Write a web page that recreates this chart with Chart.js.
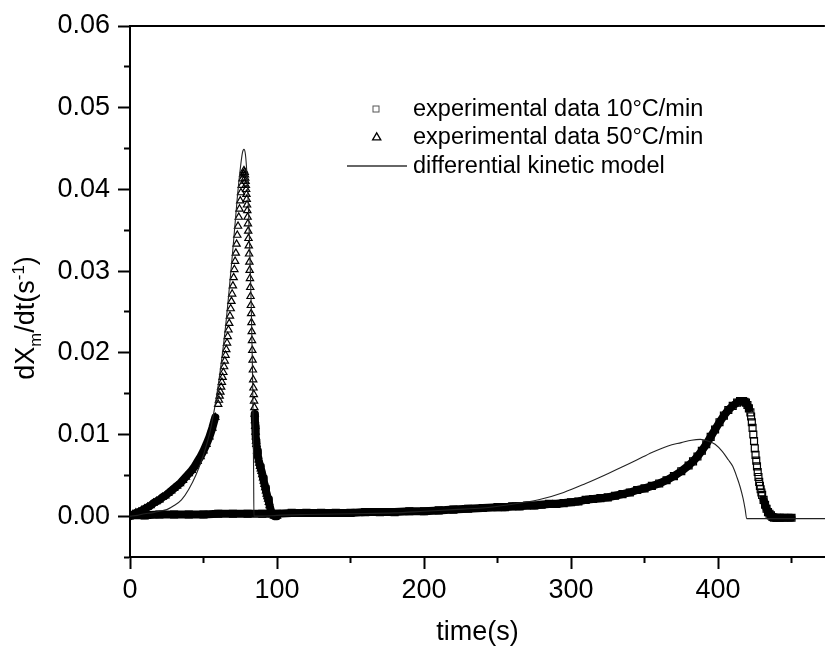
<!DOCTYPE html>
<html><head><meta charset="utf-8">
<script src="https://cdn.jsdelivr.net/npm/chart.js@4/dist/chart.umd.min.js"></script>
<style>
html,body{margin:0;padding:0;background:#fff;}
#wrap{position:relative;width:831px;height:653px;overflow:hidden;font-family:"Liberation Sans",Arial,sans-serif;color:#000;}
canvas{position:absolute;left:0;top:0;}
.lg{position:absolute;left:413px;font-size:23.5px;line-height:1;white-space:nowrap;transform:translateY(-50%);}
#ytitle{position:absolute;left:28px;top:318px;transform:translate(-50%,-50%) rotate(-90deg);font-size:27px;white-space:nowrap;line-height:1;}
#ytitle sub,#ytitle sup{font-size:62%;}
#lgsvg{position:absolute;left:0;top:0;pointer-events:none;}
</style></head>
<body><div id="wrap">
<canvas id="c" width="831" height="653"></canvas>
<svg id="lgsvg" width="831" height="653">
  <rect x="373" y="106" width="6" height="6" fill="none" stroke="#555" stroke-width="1"/>
  <polygon points="376.7,132.8 380.8,139.8 372.6,139.8" fill="none" stroke="#000" stroke-width="1.3"/>
  <line x1="347" y1="166" x2="407" y2="166" stroke="#333" stroke-width="1.3"/>
</svg>
<div class="lg" style="top:109px">experimental data 10°C/min</div>
<div class="lg" style="top:137px">experimental data 50°C/min</div>
<div class="lg" style="top:166px">differential kinetic model</div>
<div id="ytitle">dX<sub>m</sub>/dt(s<sup>-1</sup>)</div>
</div>
<script>
// experimental data 50°C/min (triangles)
const t50 = [0,2,4,6,8,10,12,14,16,18,20,22,24,26,28,30,32,34,36,38,40,42,44,46,48,50,52,54,56,58,60,
  60.5,61,61.5,62,62.5,63,63.5,64,64.5,65,65.5,66,66.5,67,67.5,68,68.5,69,69.5,70,
  70.5,71,71.5,72,72.5,73,73.5,74,74.5,75,75.5,76,76.5,77,77.5,
  78.0,78.2,78.4,78.6,78.8,79.0,79.2,79.4,79.6,79.8,80.0,80.2,80.4,80.6,80.8,81.0,81.2,81.4,81.6,81.8,
  82.0,82.2,82.4,82.6,82.8,83.0,83.2,83.4,83.6,83.8,84.0,84.2,84.4,84.6,84.8,85.0,85.2,85.4,85.6,85.8,86.0,
  86.5,87,87.5,88,88.5,89,89.5,90,90.5,91,91.5,92,92.5,93,93.5,94,94.5,95,95.5,96,97,98,100];
const v50 = [0.0000,0.0002,0.0004,0.0005,0.0007,0.0009,0.0011,0.0013,0.0016,0.0018,0.0020,0.0023,0.0025,0.0028,0.0031,0.0034,0.0037,0.0040,0.0044,0.0048,0.0052,0.0056,0.0061,0.0067,0.0073,0.0080,0.0088,0.0097,0.0108,0.0121,0.0137,
  0.0142,0.0147,0.0152,0.0158,0.0164,0.0170,0.0176,0.0183,0.0190,0.0197,0.0204,0.0212,0.0220,0.0228,0.0236,0.0245,0.0254,0.0263,0.0272,0.0282,
  0.0292,0.0302,0.0312,0.0322,0.0333,0.0344,0.0355,0.0366,0.0376,0.0386,0.0396,0.0405,0.0413,0.0419,0.0423,
  0.0421,0.0418,0.0414,0.0410,0.0405,0.0400,0.0394,0.0388,0.0381,0.0374,0.0366,0.0358,0.0349,0.0340,0.0331,0.0321,0.0311,0.0301,0.0291,0.0280,
  0.0269,0.0258,0.0248,0.0237,0.0226,0.0215,0.0203,0.0191,0.0179,0.0167,0.0157,0.0149,0.0141,0.0133,0.0125,0.0117,0.0110,0.0103,0.0097,0.0092,0.0088,
  0.0080,0.0074,0.0069,0.0065,0.0061,0.0058,0.0055,0.0051,0.0047,0.0043,0.0039,0.0035,0.0031,0.0027,0.0024,0.0021,0.0017,0.0013,0.0009,0.0006,0.0002,0.0000,0.0000];

// experimental data 10°C/min (squares)
const t10 = [0,10,20,30,40,50,60,70,80,90,100,110,120,130,140,150,160,170,180,190,200,210,220,230,240,250,
  255,260,265,270,275,280,285,290,295,300,305,310,315,320,325,330,335,340,345,350,355,360,365,370,375,380,
  383,386,389,392,395,398,401,404,407,410,413,415,417,418,419,420,421,422,
  422.5,423,423.5,424,424.5,425,425.5,426,426.5,427,427.5,428,428.5,429,429.5,430,
  431,432,433,434,435,436,437,438,440,442,445,450];
const v10 = [0.0001,0.0001,0.0002,0.0002,0.0002,0.0002,0.0003,0.0003,0.0003,0.0003,0.0003,0.0004,0.0004,0.0004,0.0004,0.0004,0.0005,0.0005,0.0005,0.0006,0.0006,0.0007,0.0008,0.0009,0.0010,0.0011,
  0.0011,0.0012,0.0012,0.0013,0.0013,0.0014,0.0015,0.0015,0.0016,0.0017,0.0018,0.0020,0.0021,0.0022,0.0023,0.0025,0.0027,0.0029,0.0032,0.0034,0.0037,0.0040,0.0044,0.0049,0.0055,0.0062,
  0.0067,0.0073,0.0080,0.0088,0.0097,0.0106,0.0115,0.0123,0.0130,0.0135,0.0139,0.0141,0.0141,0.0140,0.0139,0.0136,0.0132,0.0127,
  0.0122,0.0115,0.0108,0.0100,0.0092,0.0083,0.0075,0.0068,0.0061,0.0054,0.0048,0.0042,0.0037,0.0033,0.0029,0.0026,
  0.0020,0.0014,0.0009,0.0005,0.0003,0.0001,-0.0001,-0.0002,-0.0002,-0.0002,-0.0002,-0.0002];

// differential kinetic model (line)
const tModel = [0,5,10,15,20,25,30,35,40,45,50,55,60,65,70,73,75,76.5,77.5,78.5,79.5,80.5,81.5,82.5,83.3,83.8,84.1,84.3,
  90,100,120,150,180,200,220,240,258,278,295,310,325,344,355,366,375,382,388,393,398,403,407,410,413,415,417,418.5,419.5,440,473];
const vModel = [0,0.0001,0.0003,0.0004,0.0006,0.0008,0.0013,0.0020,0.0033,0.0051,0.0075,0.0108,0.0160,0.0232,0.0327,0.0390,0.0425,0.0445,0.0449,0.0443,0.0420,0.0380,0.0325,0.0255,0.0180,0.0110,0.0050,0.0000,
  0.0000,0.0001,0.0002,0.0003,0.0004,0.0006,0.0008,0.0010,0.0014,0.0020,0.0029,0.0040,0.0052,0.0068,0.0078,0.0086,0.0090,0.0093,0.0094,0.0092,0.0088,0.0079,0.0069,0.0061,0.0047,0.0036,0.0022,0.0008,-0.0003,-0.0003,-0.0003];

const FONT = "'Liberation Sans', Arial, sans-serif";
const pts = (xs, ys) => xs.map((x, i) => ({x: x, y: ys[i]}));
const CLEAR = 'rgba(0,0,0,0)';
// dense band underlay: same points, broken where the markers stand apart (steep parts)
const band50 = pts(t50, v50).map(p => (p.y > 0.013 ? {x: p.x, y: null} : p));
const band10 = pts(t10, v10).map(p => (p.x > 421.5 && p.x < 430.5 ? {x: p.x, y: null} : p));

const topLine = {
  id: 'topLine',
  afterDraw(chart) {
    const {ctx, chartArea: a} = chart;
    ctx.save();
    ctx.strokeStyle = '#000'; ctx.lineWidth = 2;
    ctx.beginPath(); ctx.moveTo(a.left - 1, a.top); ctx.lineTo(a.right, a.top); ctx.stroke();
    ctx.restore();
  }
};

const markerDs = (label, data, style, r, order) => ({
  label: label, data: data, showLine: false, fill: false,
  pointStyle: style, pointRadius: r, pointBorderWidth: 1.2,
  pointBorderColor: '#000', pointBackgroundColor: CLEAR, order: order
});
const bandDs = (data, order) => ({
  label: '', data: data, showLine: true, spanGaps: false, fill: false,
  borderColor: '#000', borderWidth: 8, tension: 0, pointRadius: 0,
  borderCapStyle: 'round', borderJoinStyle: 'round', order: order
});

new Chart(document.getElementById('c'), {
  type: 'line',
  data: {
    datasets: [
      {
        label: 'differential kinetic model',
        data: pts(tModel, vModel),
        borderColor: '#222', borderWidth: 1.1, pointRadius: 0, fill: false,
        cubicInterpolationMode: 'monotone', order: 0
      },
      markerDs('experimental data 50°C/min', pts(t50, v50), 'triangle', 4.2, 1),
      bandDs(band50, 2),
      markerDs('experimental data 10°C/min', pts(t10, v10), 'rect', 4.9, 3),
      bandDs(band10, 4)
    ]
  },
  options: {
    responsive: false, animation: false, devicePixelRatio: 1,
    layout: { padding: { top: 26, right: 0, left: 0, bottom: 0 } },
    plugins: { legend: { display: false }, tooltip: { enabled: false } },
    scales: {
      x: {
        type: 'linear', min: 0, max: 472.7,
        afterFit: s => { s.height = 96; },
        ticks: {
          stepSize: 50, includeBounds: false, autoSkip: false, maxRotation: 0,
          color: '#000', padding: 5, font: { family: FONT, size: 27 },
          callback: v => (Math.round(v) % 100 === 0 ? String(Math.round(v)) : '')
        },
        grid: {
          drawOnChartArea: false, tickLength: 12, tickWidth: 2, tickColor: '#000',
          tickBorderDash: c => (c.tick && Math.round(c.tick.value) % 100 !== 0) ? [5, 30] : []
        },
        border: { color: '#000', width: 2 },
        title: { display: true, text: 'time(s)', color: '#000', font: { family: FONT, size: 27 }, padding: { top: 0, bottom: 4 } }
      },
      y: {
        type: 'linear', min: -0.005, max: 0.06,
        afterFit: s => { s.width = 130; },
        ticks: {
          stepSize: 0.005, includeBounds: false, autoSkip: false,
          color: '#000', padding: 8, font: { family: FONT, size: 27 },
          callback: v => { const k = Math.round(v * 1000); return k % 10 === 0 ? (k / 1000).toFixed(2) : ''; }
        },
        grid: {
          drawOnChartArea: false, tickLength: 12, tickWidth: 2, tickColor: '#000',
          tickBorderDash: c => (c.tick && Math.round(c.tick.value * 1000) % 10 !== 0) ? [0, 6, 6, 0] : []
        },
        border: { color: '#000', width: 2 }
      }
    }
  },
  plugins: [topLine]
});
</script>
</body></html>
